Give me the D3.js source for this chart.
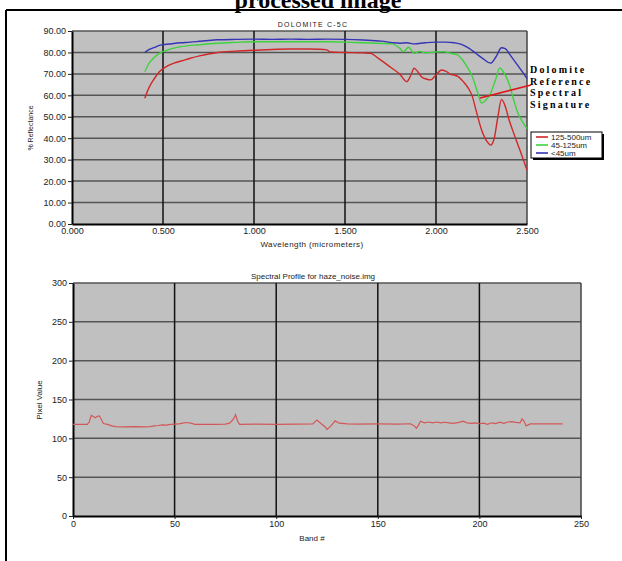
<!DOCTYPE html>
<html>
<head>
<meta charset="utf-8">
<script src="https://cdn.jsdelivr.net/npm/d3@7"></script>
<style>
	body { margin: 0; background: #fff; }
	svg { display: block; }
	text { font-family: Arial, "Liberation Sans", sans-serif; fill: #222; }
</style>
</head>
<body>
<svg id="canvas"></svg>
<script>
// ---- top chart: dolomite reference spectra ----
const topXTicks = [0, 0.5, 1.0, 1.5, 2.0, 2.5];
const topYTicks = [0, 10, 20, 30, 40, 50, 60, 70, 80, 90];

const wlRed = [0.40, 0.42, 0.45, 0.48, 0.52, 0.56, 0.60, 0.65, 0.70, 0.75, 0.80, 0.90, 1.00, 1.10, 1.20, 1.30, 1.35, 1.40, 1.42, 1.50, 1.60, 1.64, 1.68, 1.72, 1.76, 1.80, 1.84, 1.86, 1.88, 1.90, 1.92, 1.95, 1.97, 2.00, 2.03, 2.06, 2.08, 2.10, 2.12, 2.15, 2.18, 2.20, 2.22, 2.25, 2.28, 2.30, 2.32, 2.34, 2.36, 2.38, 2.40, 2.42, 2.45, 2.48, 2.50];
const refRed = [58.6, 63, 67.5, 71, 73.5, 75, 76, 77.3, 78.4, 79.3, 80, 80.6, 81, 81.4, 81.6, 81.6, 81.5, 81.2, 80.2, 80.0, 79.8, 79.6, 77.5, 75, 72.5, 70, 66.4, 69, 72.6, 71, 68.7, 67.5, 67.2, 69.5, 71.8, 71, 69.8, 69.5, 68.8, 66.4, 63, 59.4, 53, 44, 38.5, 36.8, 40, 50, 58.1, 55, 49, 44, 37, 30, 25.2];

const wlGreen = [0.40, 0.42, 0.45, 0.48, 0.52, 0.56, 0.60, 0.70, 0.80, 0.90, 1.00, 1.20, 1.40, 1.50, 1.60, 1.70, 1.76, 1.80, 1.82, 1.85, 1.88, 1.91, 1.94, 2.00, 2.04, 2.08, 2.12, 2.15, 2.18, 2.20, 2.23, 2.25, 2.27, 2.30, 2.33, 2.35, 2.37, 2.40, 2.43, 2.45, 2.48, 2.50];
const refGreen = [71, 74.5, 77.5, 79.6, 81, 82, 82.7, 83.6, 84.3, 84.7, 85, 85, 85, 84.8, 84.5, 84.2, 84, 82, 80.4, 82.4, 79.6, 80.5, 79.8, 80.2, 80.4, 79.6, 78.8, 76, 72, 68.7, 61, 56.4, 57.5, 61, 68, 72.8, 71, 65.8, 57, 51.8, 47, 44.5];

const wlBlue = [0.40, 0.42, 0.45, 0.48, 0.52, 0.56, 0.60, 0.65, 0.70, 0.75, 0.80, 0.90, 1.00, 1.10, 1.20, 1.30, 1.40, 1.50, 1.60, 1.70, 1.76, 1.80, 1.84, 1.88, 1.94, 2.00, 2.05, 2.10, 2.14, 2.18, 2.22, 2.26, 2.30, 2.33, 2.36, 2.38, 2.41, 2.44, 2.47, 2.50];
const refBlue = [80, 81.2, 82.2, 83.3, 83.8, 84.2, 84.5, 84.8, 85.2, 85.6, 85.9, 86.1, 86.2, 86.1, 86.2, 86.1, 86.2, 86.1, 85.8, 85.3, 84.6, 84.3, 84.5, 84.0, 84.5, 84.8, 84.8, 84.5, 83.8, 82, 79.5, 77, 75, 78, 82.2, 81.8, 78.5, 75, 71.5, 67.8];

const seriesNames = ['125-500um', '45-125um', '<45um'];
const seriesColors = ['#d02828', '#3ed23e', '#3434b4'];
const noteLines = ['Dolomite', 'Reference', 'Spectral', 'Signature'];

// ---- bottom chart: spectral profile ----
const botXTicks = [0, 50, 100, 150, 200, 250];
const botYTicks = [0, 50, 100, 150, 200, 250, 300];
const bands = [0, 7, 8, 9, 10, 11, 12, 13, 14, 15, 17, 19, 21, 25, 30, 35, 38, 40, 42, 44, 46, 48, 50, 52, 54, 56, 58, 60, 65, 70, 75, 77, 78, 79, 80, 81, 82, 90, 100, 110, 118, 120, 122, 124, 125, 127, 129, 131, 135, 140, 150, 160, 166, 168, 169, 170, 171, 173, 175, 177, 179, 181, 183, 185, 187, 190, 192, 194, 196, 198, 200, 202, 204, 206, 208, 210, 212, 214, 216, 218, 220, 221, 222, 223, 225, 230, 235, 241];
const pixelValues = [118, 118, 121, 129.5, 128, 126.5, 128.5, 129, 124, 119, 118, 116, 115, 114.8, 115, 114.8, 115.2, 116, 116.5, 117.4, 117, 118, 118.2, 118.5, 119.5, 120.4, 119.5, 118, 118, 118, 118.2, 119.5, 122, 125, 130.5, 122, 118, 118.2, 118, 118.3, 118.5, 123.4, 119, 115, 111.5, 116, 122.5, 119.5, 118.7, 118.4, 118.5, 118.3, 118.8, 116, 113, 117, 122, 120, 121, 119.8, 121, 120, 120.7, 120, 119.3, 120.5, 122, 120, 119.2, 120, 118.8, 119.5, 118, 120, 119, 120.8, 119.2, 121, 121.5, 120.5, 120, 125, 122, 116, 118.5, 118.5, 118.5, 118.5];

const w = 622;
const h = 561;
const svg = d3.select('#canvas').attr('width', w).attr('height', h);

// page frame + heading (cut by the top edge, as in the scan)
svg.append('text')
	.attr('x', 318).attr('y', 8)
	.attr('text-anchor', 'middle')
	.style('font-family', '"Liberation Serif", "Times New Roman", serif')
	.style('font-weight', 'bold').style('font-size', '24px').style('fill', '#000')
	.text('processed image');
svg.append('line').attr('x1', 6).attr('x2', w).attr('y1', 10).attr('y2', 10).attr('stroke', '#000').attr('stroke-width', 2);
svg.append('line').attr('x1', 6).attr('x2', 6).attr('y1', 10).attr('y2', h).attr('stroke', '#000').attr('stroke-width', 2);

function drawFrame(g, x, y, xTicks, yTicks) {
	const [x0, x1] = x.range();
	const [y0, y1] = y.range();
	g.append('rect').attr('x', x0).attr('y', y1).attr('width', x1 - x0).attr('height', y0 - y1).attr('fill', '#c0c0c0');
	g.selectAll('.hgrid').data(yTicks.slice(1)).enter().append('line')
		.attr('x1', x0).attr('x2', x1)
		.attr('y1', (d) => y(d)).attr('y2', (d) => y(d))
		.attr('stroke', '#555').attr('stroke-width', 1.5);
	g.selectAll('.vgrid').data(xTicks.slice(1)).enter().append('line')
		.attr('x1', (d) => x(d)).attr('x2', (d) => x(d))
		.attr('y1', y1).attr('y2', y0)
		.attr('stroke', (d, i) => (i === xTicks.length - 2 ? '#444' : '#111')).attr('stroke-width', 1.5);
}

function styleAxis(sel) {
	sel.select('.domain').attr('stroke', '#000').attr('stroke-width', 2);
	sel.selectAll('.tick line').attr('stroke', '#222');
	sel.selectAll('text').style('font-size', '9px').style('fill', '#222').attr('font-family', null);
}

// ---------- top chart ----------
const xTop = d3.scaleLinear().domain([0, 2.5]).range([72, 527]);
const yTop = d3.scaleLinear().domain([0, 90]).range([224, 31]);
const gTop = svg.append('g');
drawFrame(gTop, xTop, yTop, topXTicks, topYTicks);

gTop.append('g').attr('transform', 'translate(72,0)')
	.call(d3.axisLeft(yTop).tickValues(topYTicks).tickFormat(d3.format('.2f')).tickSize(4).tickSizeOuter(0).tickPadding(2))
	.call(styleAxis);
gTop.append('g').attr('transform', 'translate(0,224)')
	.call(d3.axisBottom(xTop).tickValues(topXTicks).tickFormat(d3.format('.3f')).tickSize(0).tickPadding(4))
	.call(styleAxis);

const topLine = d3.line().x((d) => xTop(d[0])).y((d) => yTop(d[1])).curve(d3.curveMonotoneX);
const topSeries = [
	d3.zip(wlRed, refRed),
	d3.zip(wlGreen, refGreen),
	d3.zip(wlBlue, refBlue)
];
gTop.selectAll('.spec').data(topSeries).enter().append('path')
	.attr('d', topLine)
	.attr('fill', 'none')
	.attr('stroke', (d, i) => seriesColors[i])
	.attr('stroke-width', 1.4);

gTop.append('text').attr('x', 313).attr('y', 27).attr('text-anchor', 'middle')
	.style('font-size', '7px').style('letter-spacing', '1.2px').text('DOLOMITE C-5C');
gTop.append('text').attr('x', 312).attr('y', 247).attr('text-anchor', 'middle')
	.style('font-size', '8px').style('letter-spacing', '0.4px').text('Wavelength (micrometers)');
gTop.append('text').attr('transform', 'translate(33,128) rotate(-90)').attr('text-anchor', 'middle')
	.style('font-size', '7px').text('% Reflectance');

// legend
const legend = gTop.append('g').attr('transform', 'translate(531,132)');
legend.append('rect').attr('x', 2).attr('y', 2).attr('width', 71).attr('height', 26).attr('fill', '#000');
legend.append('rect').attr('width', 71).attr('height', 26).attr('fill', '#fff').attr('stroke', '#000').attr('stroke-width', 1);
seriesNames.forEach((name, i) => {
	legend.append('line').attr('x1', 5).attr('x2', 17).attr('y1', 5 + i * 8).attr('y2', 5 + i * 8)
		.attr('stroke', seriesColors[i]).attr('stroke-width', 1.6);
	legend.append('text').attr('x', 20).attr('y', 8 + i * 8).style('font-size', '8px').text(name);
});

// annotation
gTop.append('line').attr('x1', 480).attr('y1', 98).attr('x2', 531).attr('y2', 85)
	.attr('stroke', '#e01818').attr('stroke-width', 1.8);
noteLines.forEach((t, i) => {
	gTop.append('text').attr('x', 530).attr('y', 73 + i * 11.6)
		.style('font-family', '"Liberation Serif", "Times New Roman", serif')
		.style('font-weight', 'bold').style('font-size', '10px').style('letter-spacing', '2.2px').style('fill', '#000')
		.text(t);
});

// ---------- bottom chart ----------
const xBot = d3.scaleLinear().domain([0, 250]).range([73, 581]);
const yBot = d3.scaleLinear().domain([0, 300]).range([516, 283]);
const gBot = svg.append('g');
drawFrame(gBot, xBot, yBot, botXTicks, botYTicks);

gBot.append('g').attr('transform', 'translate(73,0)')
	.call(d3.axisLeft(yBot).tickValues(botYTicks).tickFormat(d3.format('d')).tickSize(4).tickSizeOuter(0).tickPadding(2))
	.call(styleAxis);
gBot.append('g').attr('transform', 'translate(0,516)')
	.call(d3.axisBottom(xBot).tickValues(botXTicks).tickFormat(d3.format('d')).tickSize(3).tickSizeOuter(0).tickPadding(2))
	.call(styleAxis);

const botLine = d3.line().x((d) => xBot(d[0])).y((d) => yBot(d[1]));
gBot.append('path')
	.datum(d3.zip(bands, pixelValues))
	.attr('d', botLine)
	.attr('fill', 'none')
	.attr('stroke', '#d25858')
	.attr('stroke-width', 1.2);

gBot.append('text').attr('x', 313).attr('y', 279).attr('text-anchor', 'middle')
	.style('font-size', '8px').text('Spectral Profile for haze_noise.img');
gBot.append('text').attr('x', 312).attr('y', 541).attr('text-anchor', 'middle')
	.style('font-size', '8px').text('Band #');
gBot.append('text').attr('transform', 'translate(42,400) rotate(-90)').attr('text-anchor', 'middle')
	.style('font-size', '8px').text('Pixel Value');
</script>
</body>
</html>
